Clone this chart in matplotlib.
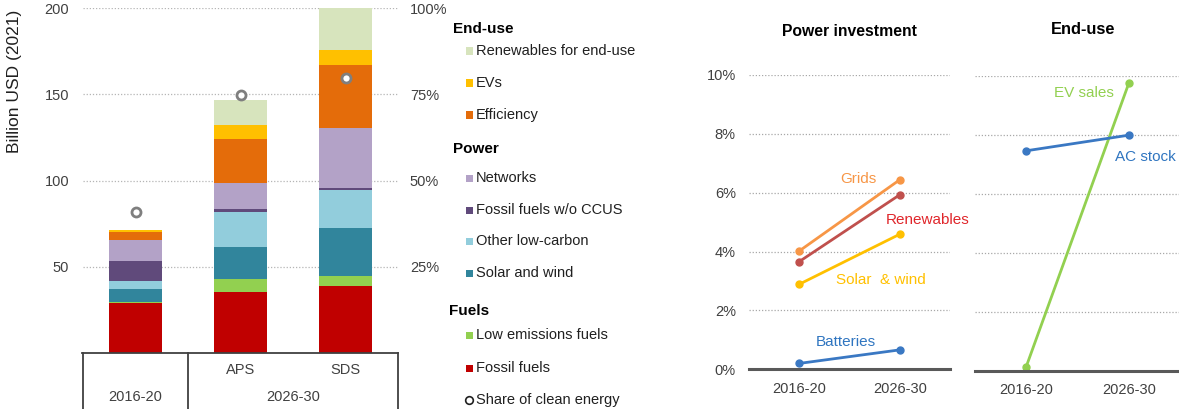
import matplotlib
matplotlib.use('Agg')
import matplotlib.pyplot as plt
from matplotlib.lines import Line2D
from matplotlib.patches import Rectangle
from matplotlib.ticker import FuncFormatter
import numpy as np

plt.rcParams['font.family'] = ['Liberation Sans', 'DejaVu Sans']

# ---------------- data ----------------
scenarios = ['2016-20', 'APS', 'SDS']
series_names = ['Fossil fuels', 'Low emissions fuels', 'Solar and wind', 'Other low-carbon',
                'Fossil fuels w/o CCUS', 'Networks', 'Efficiency', 'EVs', 'Renewables for end-use']
fossil_fuels = [29.2, 35.3, 38.8]
low_emissions_fuels = [0.3, 7.5, 5.6]
solar_and_wind = [7.5, 18.8, 28.3]
other_low_carbon = [5.0, 20.4, 21.9]
fossil_wo_ccus = [11.5, 1.7, 1.1]
networks = [11.8, 15.1, 34.9]
efficiency = [4.9, 25.2, 36.1]
evs = [0.9, 8.4, 9.1]
renewables_end_use = [0.4, 14.1, 24.6]
clean_share = [41.0, 74.7, 79.8]   # percent

periods = ['2016-20', '2026-30']
grids = [4.02, 6.44]
renewables = [3.66, 5.93]
solar_wind_share = [2.89, 4.59]
batteries = [0.20, 0.66]
ev_sales = [0.14, 9.76]
ac_stock = [7.47, 8.00]

series_values = [fossil_fuels, low_emissions_fuels, solar_and_wind, other_low_carbon,
                 fossil_wo_ccus, networks, efficiency, evs, renewables_end_use]
series_colors = ['#C00000', '#92D050', '#31859C', '#92CDDC', '#604A7B',
                 '#B3A2C7', '#E46C0A', '#FFC000', '#D7E4BD']

# ---------------- figure ----------------
W, H = 1179, 409
fig = plt.figure(figsize=(W / 100, H / 100), dpi=100)
fig.patch.set_facecolor('white')

def fx(px):
    return px / W

def fy(py):
    return 1 - py / H

TXT = '#404040'
FS = 10.5

# ---------------- left stacked bars ----------------
ax = fig.add_axes([fx(83), fy(353), 315 / W, 345 / H])
x = np.arange(len(scenarios))
bottom = np.zeros(len(scenarios))
for name, vals, col in zip(series_names, series_values, series_colors):
    ax.bar(x, vals, width=0.5, bottom=bottom, color=col, label=name, zorder=2)
    bottom += np.array(vals)
ax.set_xlim(-0.5, 2.5)
ax.set_ylim(0, 200)
ax.set_yticks([50, 100, 150, 200])
ax.yaxis.grid(True, linestyle=(0, (1, 1.5)), color='#b5b5b5', lw=0.9)
ax.set_axisbelow(True)
ax.set_xticks([])
for s in ax.spines.values():
    s.set_visible(False)
ax.tick_params(axis='y', length=0, labelsize=FS, labelcolor=TXT, pad=10)

ax2 = ax.twinx()
ax2.set_ylim(0, 100)
ax2.set_yticks([25, 50, 75, 100])
ax2.yaxis.set_major_formatter(FuncFormatter(lambda v, p: f'{v:.0f}%'))
ax2.tick_params(axis='y', length=0, labelsize=FS, labelcolor=TXT, pad=8.5)
for s in ax2.spines.values():
    s.set_visible(False)
ax2.plot(x, clean_share, 'o', ls='none', mfc='white', mec='#7f7f7f', ms=6.5, mew=2, zorder=5)

fig.text(fx(15), fy(81), 'Billion USD (2021)', rotation=90, ha='center', va='center',
         fontsize=12.5, color='#202020')

# category table below
lc = '#404040'
fig.add_artist(Line2D([fx(82), fx(398)], [fy(353), fy(353)], transform=fig.transFigure, color=lc, lw=1.3))
for px in [83, 187.5, 397.5]:
    fig.add_artist(Line2D([fx(px), fx(px)], [fy(353), fy(410)], transform=fig.transFigure, color=lc, lw=1.3))
bar_px = [83 + (i + 0.5) * 105 for i in range(3)]
fig.text(fx(bar_px[1]), fy(370), scenarios[1], ha='center', va='center', fontsize=FS, color=TXT)
fig.text(fx(bar_px[2]), fy(370), scenarios[2], ha='center', va='center', fontsize=FS, color=TXT)
fig.text(fx(bar_px[0]), fy(397), periods[0], ha='center', va='center', fontsize=FS, color=TXT)
fig.text(fx((bar_px[1] + bar_px[2]) / 2), fy(397), periods[1], ha='center', va='center', fontsize=FS, color=TXT)

# ---------------- legend (manual) ----------------
def header(px, py, t):
    fig.text(fx(px), fy(py), t, ha='left', va='center', fontsize=FS + 0.5, fontweight='bold', color='black')

def item(py, name):
    i = series_names.index(name)
    fig.add_artist(Rectangle((fx(465.5), fy(py + 3.5)), 7 / W, 7 / H, transform=fig.transFigure,
                             facecolor=series_colors[i], edgecolor='none'))
    fig.text(fx(476), fy(py), name, ha='left', va='center', fontsize=FS, color='#202020')

header(452.5, 29, 'End-use')
item(51, 'Renewables for end-use')
item(83, 'EVs')
item(115, 'Efficiency')
header(452.5, 149, 'Power')
item(178, 'Networks')
item(210, 'Fossil fuels w/o CCUS')
item(241, 'Other low-carbon')
item(273, 'Solar and wind')
header(449, 311, 'Fuels')
item(335, 'Low emissions fuels')
item(368, 'Fossil fuels')
fig.add_artist(Line2D([fx(469)], [fy(400)], transform=fig.transFigure, marker='o', ls='none',
                      mfc='white', mec='#202020', ms=5.5, mew=1.2))
fig.text(fx(476), fy(400), 'Share of clean energy', ha='left', va='center', fontsize=FS, color='#202020')

# ---------------- right panels ----------------
def style_panel(a, show_y):
    a.set_xlim(-0.5, 1.5)
    a.set_ylim(0, 10)
    a.set_yticks([0, 2, 4, 6, 8, 10])
    a.yaxis.grid(True, linestyle=(0, (1, 1.5)), color='#a8a8a8', lw=0.9)
    a.set_axisbelow(True)
    for k in ['top', 'right', 'left']:
        a.spines[k].set_visible(False)
    a.spines['bottom'].set_color('#595959')
    a.spines['bottom'].set_linewidth(2.2)
    a.set_xticks([0, 1])
    a.set_xticklabels(periods)
    a.tick_params(axis='x', length=0, labelsize=FS, labelcolor=TXT, pad=9)
    if show_y:
        a.yaxis.set_major_formatter(FuncFormatter(lambda v, p: f'{v:.0f}%'))
        a.tick_params(axis='y', length=0, labelsize=FS, labelcolor=TXT, pad=9.5)
    else:
        a.tick_params(axis='y', length=0, labelleft=False)

p1 = fig.add_axes([fx(749), fy(369.3), 201 / W, 294.3 / H])
style_panel(p1, True)
lw, ms = 2.0, 5
xp = np.arange(len(periods))
p1.plot(xp, grids, '-o', color='#F79646', lw=lw, ms=ms)
p1.plot(xp, renewables, '-o', color='#C0504D', lw=lw, ms=ms)
p1.plot(xp, solar_wind_share, '-o', color='#FFC000', lw=lw, ms=ms)
p1.plot(xp, batteries, '-o', color='#3A78C3', lw=lw, ms=ms)
p1.text(0.59, 6.47, 'Grids', color='#F79646', fontsize=FS + 0.5, ha='center', va='center')
p1.text(1.28, 5.08, 'Renewables', color='#E0262B', fontsize=FS + 0.5, ha='center', va='center')
p1.text(0.81, 3.04, 'Solar  & wind', color='#FFC000', fontsize=FS + 0.5, ha='center', va='center')
p1.text(0.46, 0.94, 'Batteries', color='#2F75C0', fontsize=FS + 0.5, ha='center', va='center')
fig.text(fx(850), fy(31), 'Power investment', ha='center', va='center', fontsize=11.3, fontweight='bold', color='black')

p2 = fig.add_axes([fx(975), fy(370.7), 205 / W, 294.4 / H])
style_panel(p2, False)
p2.plot(xp, ev_sales, '-o', color='#92D050', lw=lw, ms=ms)
p2.plot(xp, ac_stock, '-o', color='#3A78C3', lw=lw, ms=ms)
p2.text(0.563, 9.43, 'EV sales', color='#92D050', fontsize=FS + 0.5, ha='center', va='center')
p2.text(1.16, 7.27, 'AC stock', color='#2F75C0', fontsize=FS + 0.5, ha='center', va='center')
fig.text(fx(1083), fy(29), 'End-use', ha='center', va='center', fontsize=11.8, fontweight='bold', color='black')

fig.savefig('out.png', dpi=100, facecolor='white')
